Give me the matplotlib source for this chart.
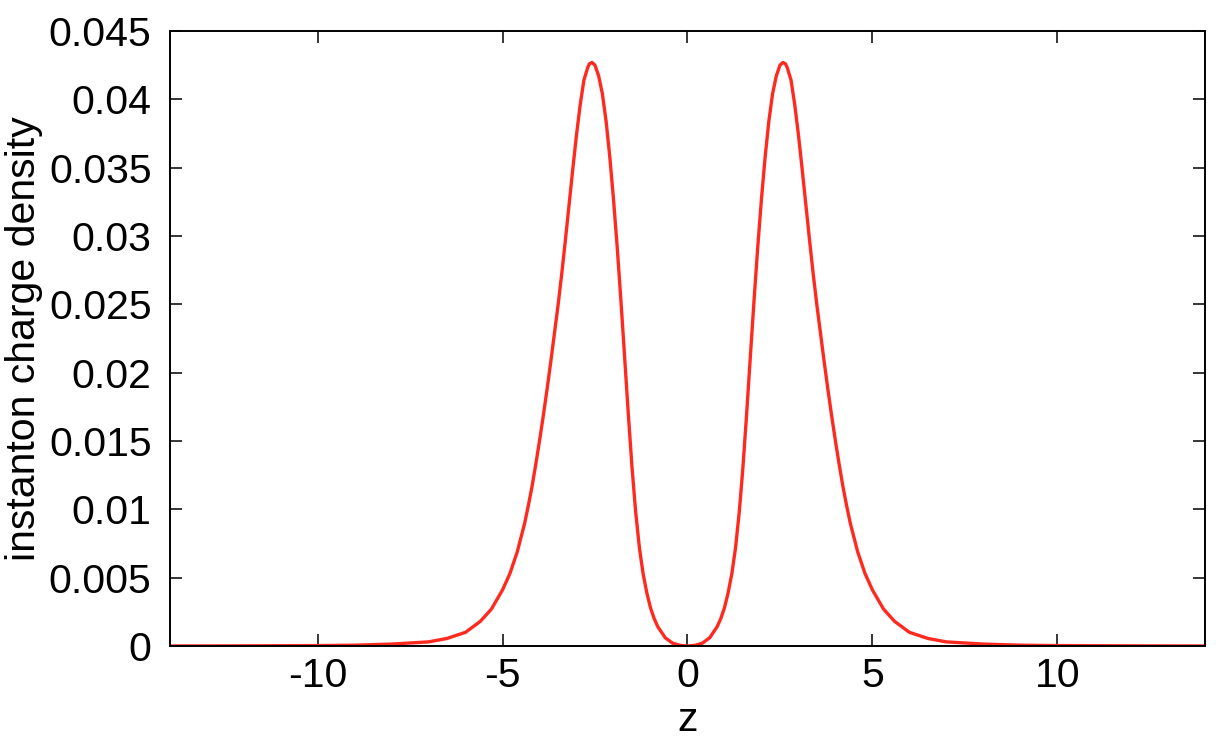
import numpy as np
import matplotlib
matplotlib.use('Agg')
import matplotlib.pyplot as plt

plt.rcParams['font.family'] = ['Liberation Sans', 'DejaVu Sans']

# instanton charge density
z = [-14.0, -12.0, -10.0, -9.0, -8.0, -7.0, -6.5, -6.0, -5.6, -5.3, -5.0,
     -4.8, -4.6, -4.4, -4.3, -4.2, -4.1, -4.0, -3.9, -3.8, -3.7, -3.6,
     -3.5, -3.4, -3.3, -3.2, -3.1, -3.0, -2.9, -2.8, -2.7, -2.65, -2.58,
     -2.5, -2.4, -2.3, -2.2, -2.1, -2.0, -1.9, -1.8, -1.7, -1.6, -1.5,
     -1.4, -1.3, -1.2, -1.1, -1.0, -0.9, -0.8, -0.6, -0.4, -0.2, 0.0,
     0.2, 0.4, 0.6, 0.8, 0.9, 1.0, 1.1, 1.2, 1.3, 1.4, 1.5, 1.6, 1.7,
     1.8, 1.9, 2.0, 2.1, 2.2, 2.3, 2.4, 2.5, 2.58, 2.65, 2.7, 2.8, 2.9,
     3.0, 3.1, 3.2, 3.3, 3.4, 3.5, 3.6, 3.7, 3.8, 3.9, 4.0, 4.1, 4.2,
     4.3, 4.4, 4.6, 4.8, 5.0, 5.3, 5.6, 6.0, 6.5, 7.0, 8.0, 9.0, 10.0,
     12.0, 14.0]
density = [0.0, 0.00001, 0.00003, 0.00006, 0.00014, 0.0003, 0.00055, 0.0010,
           0.0018, 0.0027, 0.0041, 0.0053, 0.0069, 0.0090, 0.0103, 0.0117,
           0.0133, 0.0150, 0.0168, 0.0187, 0.0207, 0.0228, 0.0249, 0.0272,
           0.0297, 0.0323, 0.0349, 0.0374, 0.0396, 0.0414, 0.0423, 0.0426,
           0.0427, 0.0425, 0.0417, 0.0404, 0.0384, 0.0358, 0.0327, 0.0292,
           0.0253, 0.0212, 0.0170, 0.0131, 0.0098, 0.0072, 0.0053, 0.0039,
           0.0028, 0.0020, 0.0014, 0.0006, 0.0002, 0.00005, 0.0,
           0.00005, 0.0002, 0.0006, 0.0014, 0.0020, 0.0028, 0.0039, 0.0053,
           0.0072, 0.0098, 0.0131, 0.0170, 0.0212, 0.0253, 0.0292, 0.0327,
           0.0358, 0.0384, 0.0404, 0.0417, 0.0425, 0.0427, 0.0426, 0.0423,
           0.0414, 0.0396, 0.0374, 0.0349, 0.0323, 0.0297, 0.0272, 0.0249,
           0.0228, 0.0207, 0.0187, 0.0168, 0.0150, 0.0133, 0.0117, 0.0103,
           0.0090, 0.0069, 0.0053, 0.0041, 0.0027, 0.0018, 0.0010, 0.00055,
           0.0003, 0.00014, 0.00006, 0.00003, 0.00001, 0.0]

xticks = [-10, -5, 0, 5, 10]
xticklabels = ['-10', '-5', '0', '5', '10']
yticks = [0, 0.005, 0.01, 0.015, 0.02, 0.025, 0.03, 0.035, 0.04, 0.045]
yticklabels = ['0', '0.005', '0.01', '0.015', '0.02', '0.025', '0.03',
               '0.035', '0.04', '0.045']

fig = plt.figure(figsize=(12.2, 7.42), dpi=100)
ax = fig.add_axes([0.139, 0.1294, 0.849, 0.8288])

ax.plot(z, density, color='#ff2a1f', linewidth=2.4,
        solid_joinstyle='round', solid_capstyle='round')

ax.set_xlim(-14, 14)
ax.set_ylim(0, 0.045)
ax.set_xticks(xticks)
ax.set_xticklabels(xticklabels)
ax.set_yticks(yticks)
ax.set_yticklabels(yticklabels)

ax.tick_params(direction='in', length=8.6, width=1.1, top=True, right=True,
               labelsize=29.5, colors='black')
ax.tick_params(axis='y', pad=13)
ax.tick_params(axis='x', pad=8)
for s in ax.spines.values():
    s.set_linewidth(1.4)
    s.set_color('black')

ax.set_xlabel('z', fontsize=29.5, labelpad=4)
ax.set_ylabel('instanton charge density', fontsize=29.5, labelpad=4)

fig.savefig('out.png', dpi=100)
